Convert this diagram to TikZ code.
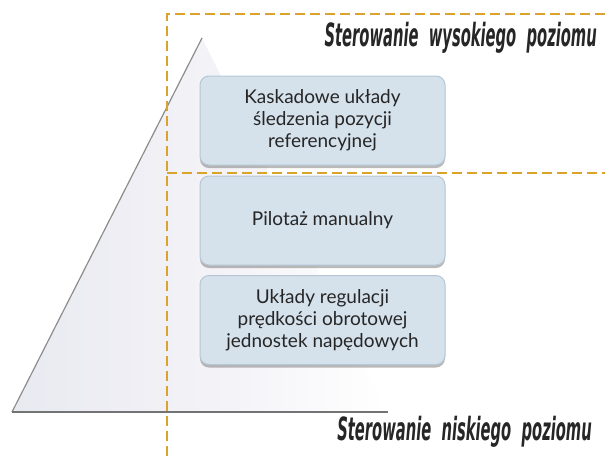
\documentclass[tikz,border=0pt]{standalone}
\usepackage{fontspec}
\setmainfont{Lato}
\newfontfamily\headfont[FakeStretch=0.46]{DejaVu Sans}
\usetikzlibrary{shadows}
\definecolor{dashcol}{HTML}{D9A32C}
\definecolor{boxfill}{HTML}{D5E1EB}
\definecolor{boxline}{HTML}{B5C6D4}
\definecolor{txt}{HTML}{262626}
\definecolor{pyr}{HTML}{E9E9F1}
\tikzset{
  lvlbox/.style={draw=boxline, line width=1pt, fill=boxfill, rounded corners=9pt,
    minimum width=245pt, minimum height=89pt, align=center, text=txt,
    font=\fontsize{19}{22}\selectfont,
    drop shadow={shadow xshift=0pt, shadow yshift=-3pt, fill=black!50, opacity=0.55}},
  sep/.style={dashcol, line width=1.4pt, dash pattern=on 10pt off 5pt},
  head/.style={text=txt, font=\headfont\bfseries\itshape\fontsize{32}{36}\selectfont, anchor=base east, inner sep=0pt}
}
\begin{document}
\begin{tikzpicture}[x=1pt,y=-1pt]
\useasboundingbox (0,0) rectangle (605,456);
% pyramid
\coordinate (apex) at (202,38);
\coordinate (bl) at (12,412);
\coordinate (br) at (388,412);
\shade[left color=pyr, right color=white, middle color=pyr!60!white] (apex) -- (bl) -- (br) -- cycle;
\draw[black!45, line width=1.2pt] (apex) -- (bl);
\draw[black!55, line width=2pt] (bl) -- (br);
% dashed frame
\coordinate (tl) at (167,14);
\coordinate (tr) at (605,14);
\coordinate (ml) at (167,173);
\coordinate (mr) at (605,173);
\coordinate (bot) at (167,456);
\draw[sep] (tr) -- (tl) -- (bot);
\draw[sep] (ml) -- (mr);
% boxes
\node[lvlbox] (b1) at (322.5,120.5) {Kaskadowe układy\\śledzenia pozycji\\referencyjnej};
\node[lvlbox] (b2) at (322.5,220.5) {Pilotaż manualny};
\node[lvlbox] (b3) at (322.5,320) {Układy regulacji\\prędkości obrotowej\\jednostek napędowych};
% headings
\node[head] (h1) at (597,46) {Sterowanie\ \ wysokiego\ \ poziomu};
\node[head] (h2) at (592,440) {Sterowanie\ \ niskiego\ \ poziomu};
\end{tikzpicture}
\end{document}
